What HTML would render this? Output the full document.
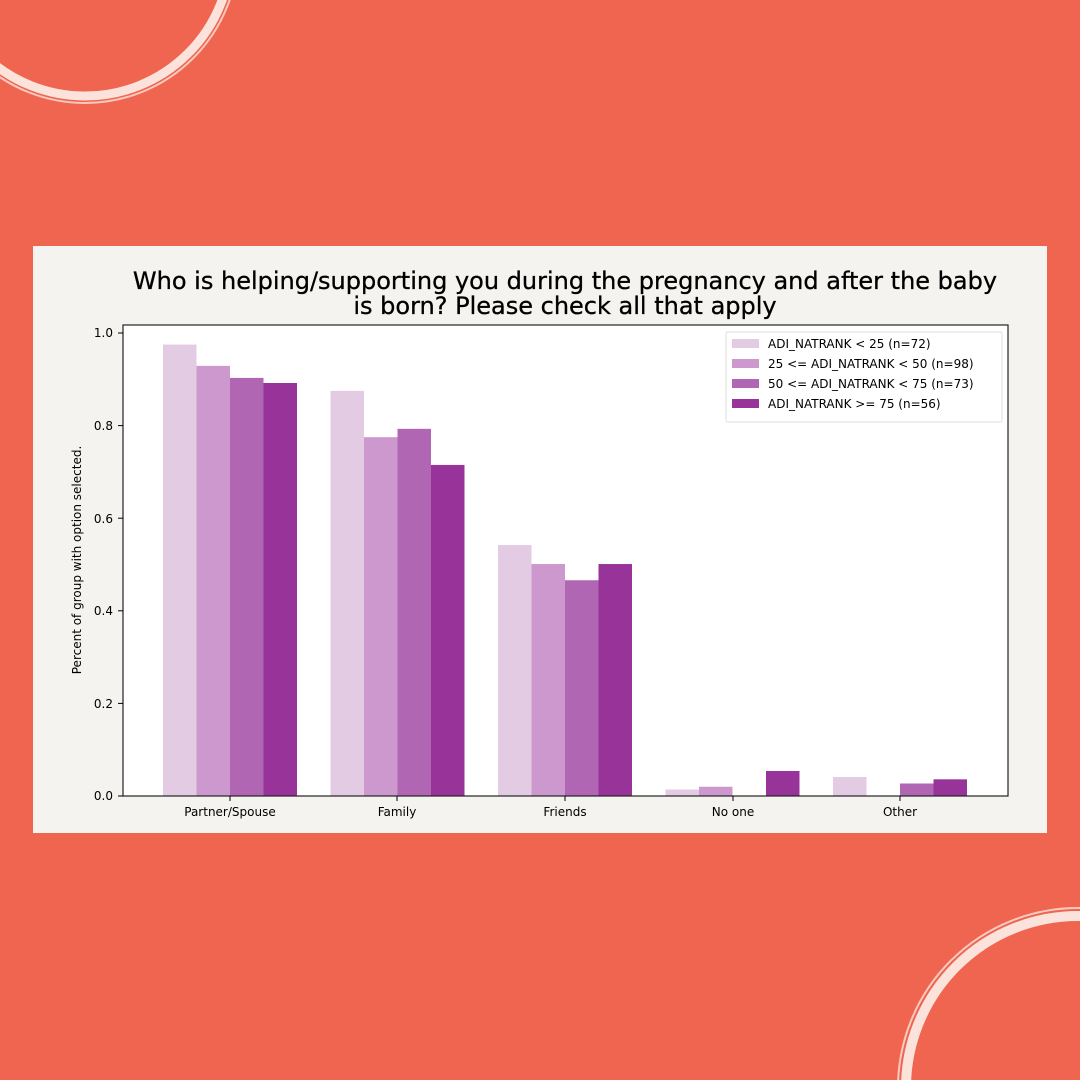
<!DOCTYPE html>
<html style="overflow:hidden"><head><style>
html,body{margin:0;width:1080px;height:1080px;overflow:hidden}
body{background:#ef6550;position:relative;font-family:"DejaVu Sans","Liberation Sans",sans-serif}
svg{display:block}
</style></head><body>
<svg width="1080" height="1080" style="position:absolute;left:0;top:0">
<g fill="none" stroke="#fbe3dc" stroke-linecap="round">
<circle cx="85" cy="-50" r="146" stroke-width="9"/>
<circle cx="85" cy="-50" r="153" stroke-width="2" opacity="0.8"/>
<circle cx="1078" cy="1088" r="172" stroke-width="10"/>
<circle cx="1078" cy="1088" r="180" stroke-width="2" opacity="0.8"/>
</g>
<rect x="33" y="246" width="1014" height="587" fill="#f4f3ef"/>
<text x="565" y="289" font-size="24" text-anchor="middle" fill="#000" stroke="#000" stroke-width="0.3">Who is helping/supporting you during the pregnancy and after the baby</text>
<text x="565" y="314" font-size="24" text-anchor="middle" fill="#000" stroke="#000" stroke-width="0.3">is born? Please check all that apply</text>
<rect x="123" y="325" width="885" height="471" fill="#fff"/>
<g id="bars"></g>
<rect x="123" y="325" width="885" height="471" fill="none" stroke="#222" stroke-width="1.2"/>
<g font-size="12" fill="#000" text-anchor="end">
<text x="113" y="800">0.0</text><line x1="118" x2="123" y1="796" y2="796" stroke="#000"/>
<text x="113" y="708">0.2</text><line x1="118" x2="123" y1="703.4" y2="703.4" stroke="#000"/>
<text x="113" y="615">0.4</text><line x1="118" x2="123" y1="610.8" y2="610.8" stroke="#000"/>
<text x="113" y="523">0.6</text><line x1="118" x2="123" y1="518.2" y2="518.2" stroke="#000"/>
<text x="113" y="430">0.8</text><line x1="118" x2="123" y1="425.6" y2="425.6" stroke="#000"/>
<text x="113" y="337">1.0</text><line x1="118" x2="123" y1="333" y2="333" stroke="#000"/>
</g>
<text transform="translate(81,560) rotate(-90)" font-size="12" text-anchor="middle">Percent of group with option selected.</text>
<g font-size="12" text-anchor="middle">
<text x="230" y="816">Partner/Spouse</text><line x1="230" x2="230" y1="796" y2="801" stroke="#000"/>
<text x="397" y="816">Family</text><line x1="397" x2="397" y1="796" y2="801" stroke="#000"/>
<text x="565" y="816">Friends</text><line x1="565" x2="565" y1="796" y2="801" stroke="#000"/>
<text x="733" y="816">No one</text><line x1="733" x2="733" y1="796" y2="801" stroke="#000"/>
<text x="900" y="816">Other</text><line x1="900" x2="900" y1="796" y2="801" stroke="#000"/>
</g>
<rect x="726" y="332" width="276" height="90" fill="#fff" stroke="#ddd" rx="2"/>
<g font-size="12">
<rect x="732" y="339" width="27" height="9" fill="#e3cbe4"/><text x="768" y="348">ADI_NATRANK &lt; 25 (n=72)</text>
<rect x="732" y="359" width="27" height="9" fill="#cc98cd"/><text x="768" y="368">25 &lt;= ADI_NATRANK &lt; 50 (n=98)</text>
<rect x="732" y="379" width="27" height="9" fill="#b066b3"/><text x="768" y="388">50 &lt;= ADI_NATRANK &lt; 75 (n=73)</text>
<rect x="732" y="399" width="27" height="9" fill="#973399"/><text x="768" y="408">ADI_NATRANK &gt;= 75 (n=56)</text>
</g>
</svg>
<script>
var vals=[[0.975,0.929,0.903,0.892],[0.875,0.775,0.793,0.715],[0.542,0.501,0.466,0.501],[0.014,0.02,0,0.054],[0.041,0,0.027,0.036]];
var cols=["#e3cbe4","#cc98cd","#b066b3","#973399"];
var g=document.getElementById("bars"),s="";
for(var i=0;i<5;i++){var c=230+i*167.5;for(var j=0;j<4;j++){var h=vals[i][j]*463;if(h>0)s+='<rect x="'+(c-67+j*33.5)+'" y="'+(796-h)+'" width="33.5" height="'+h+'" fill="'+cols[j]+'"/>';}}
g.innerHTML=s;
</script>
</body></html>
